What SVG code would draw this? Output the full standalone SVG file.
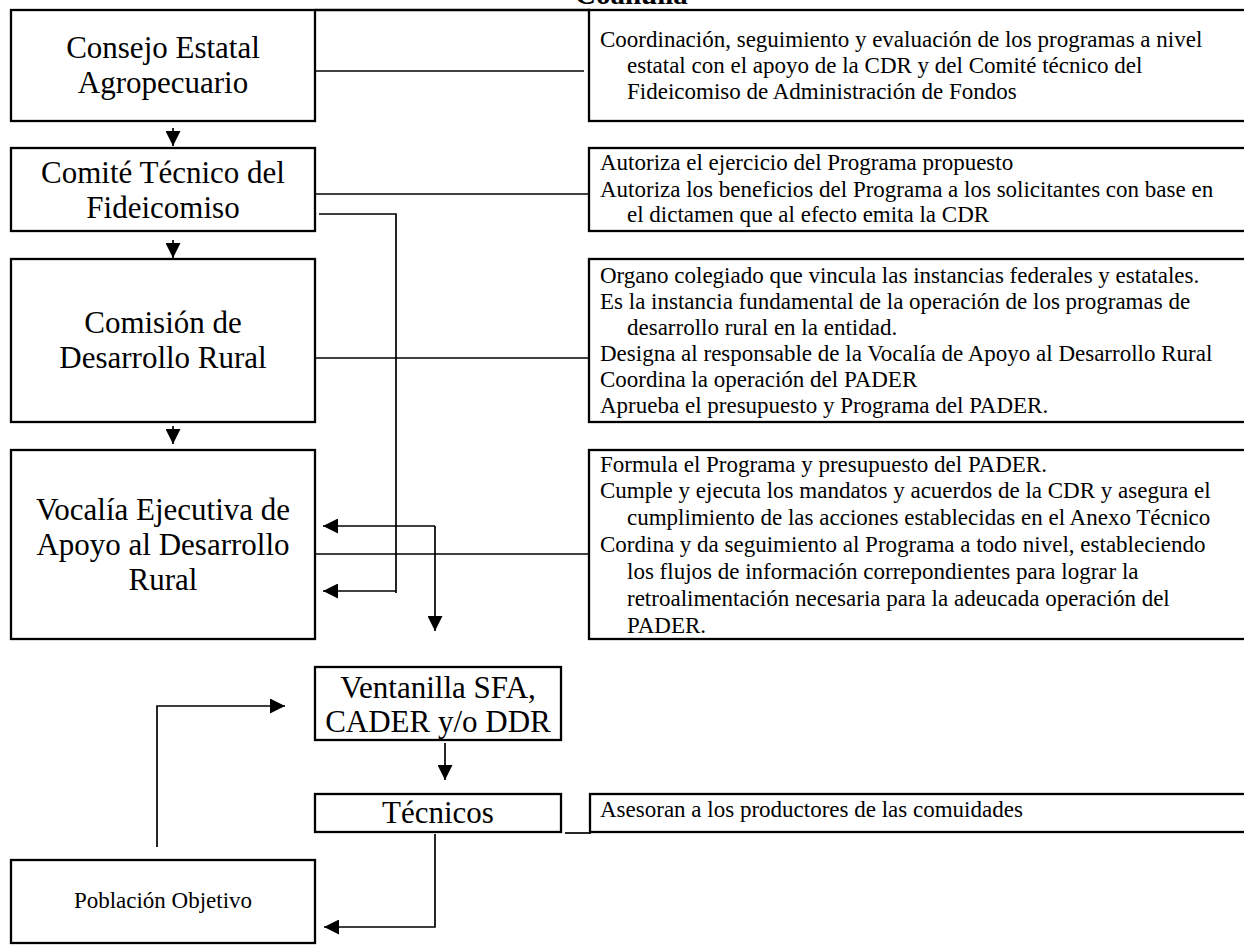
<svg xmlns="http://www.w3.org/2000/svg" width="1244" height="946" viewBox="0 0 1244 946">
<style>
.box{fill:#fff;stroke:#000;stroke-width:2.3}
.big{font-family:"Liberation Serif","Times New Roman",serif;font-size:31px;fill:#000;text-anchor:middle}
.sm{font-family:"Liberation Serif","Times New Roman",serif;font-size:23px;fill:#000}
.smc{font-family:"Liberation Serif","Times New Roman",serif;font-size:23px;fill:#000;text-anchor:middle}
.title{font-family:"Liberation Serif","Times New Roman",serif;font-size:29px;font-weight:bold;fill:#000}
.ln{fill:none;stroke:#000;stroke-width:1.7}
</style>
<defs>
<marker id="ah" markerUnits="userSpaceOnUse" markerWidth="15" markerHeight="15" refX="15" refY="7.5" orient="auto">
<path d="M0,0 L15,7.5 L0,15 z" fill="#000"/>
</marker>
</defs>
<rect width="1244" height="946" fill="#fff"/>
<text class="title" x="575" y="4">Coahuila</text>

<g id="connectors">
<line class="ln" x1="315" y1="10" x2="590" y2="10" style="stroke-width:2.3"/>
<line class="ln" x1="304" y1="71" x2="584" y2="71"/>
<line class="ln" x1="312" y1="194" x2="590" y2="194"/>
<polyline class="ln" points="319,214 396,214 396,593"/>
<line class="ln" x1="396" y1="591" x2="323" y2="591" marker-end="url(#ah)"/>
<line class="ln" x1="310" y1="358" x2="591" y2="358"/>
<line class="ln" x1="310" y1="554" x2="591" y2="554"/>
<line class="ln" x1="435" y1="526" x2="323" y2="526" marker-end="url(#ah)"/>
<line class="ln" x1="435" y1="526" x2="435" y2="631" marker-end="url(#ah)"/>
<line class="ln" x1="173" y1="128" x2="173" y2="146" marker-end="url(#ah)"/>
<line class="ln" x1="173" y1="240" x2="173" y2="258" marker-end="url(#ah)"/>
<line class="ln" x1="173" y1="426" x2="173" y2="444" marker-end="url(#ah)"/>
<line class="ln" x1="445" y1="743" x2="445" y2="780" marker-end="url(#ah)"/>
<polyline class="ln" points="157,847 157,706 285,706" marker-end="url(#ah)"/>
<polyline class="ln" points="435,834 435,927 324,927" marker-end="url(#ah)"/>
<line class="ln" x1="565" y1="833" x2="591" y2="833"/>
</g>

<g id="consejo">
<rect class="box" x="11" y="10" width="304" height="111"/>
<text class="big" x="163" y="58">Consejo Estatal</text>
<text class="big" x="163" y="93">Agropecuario</text>
</g>
<g id="consejo-desc">
<rect class="box" x="589" y="10" width="670" height="111"/>
<text class="sm" x="600" y="47">Coordinación, seguimiento y evaluación de los programas a nivel</text>
<text class="sm" x="627" y="73">estatal con el apoyo de la CDR y del Comité técnico del</text>
<text class="sm" x="627" y="99">Fideicomiso de Administración de Fondos</text>
</g>

<g id="comite">
<rect class="box" x="11" y="148" width="304" height="83"/>
<text class="big" x="163" y="183">Comité Técnico del</text>
<text class="big" x="163" y="218">Fideicomiso</text>
</g>
<g id="comite-desc">
<rect class="box" x="589" y="148" width="670" height="83"/>
<text class="sm" x="600" y="170">Autoriza el ejercicio del Programa propuesto</text>
<text class="sm" x="600" y="197">Autoriza los beneficios del Programa a los solicitantes con base en</text>
<text class="sm" x="627" y="222">el dictamen que al efecto emita la CDR</text>
</g>

<g id="comision">
<rect class="box" x="11" y="259" width="304" height="163"/>
<text class="big" x="163" y="333">Comisión de</text>
<text class="big" x="163" y="368">Desarrollo Rural</text>
</g>
<g id="comision-desc">
<rect class="box" x="589" y="259" width="670" height="163"/>
<text class="sm" x="600" y="283">Organo colegiado que vincula las instancias federales y estatales.</text>
<text class="sm" x="600" y="309">Es la instancia fundamental de la operación de los programas de</text>
<text class="sm" x="627" y="335">desarrollo rural en la entidad.</text>
<text class="sm" x="600" y="361">Designa al responsable de la Vocalía de Apoyo al Desarrollo Rural</text>
<text class="sm" x="600" y="387">Coordina la operación del PADER</text>
<text class="sm" x="600" y="413">Aprueba el presupuesto y Programa del PADER.</text>
</g>

<g id="vocalia">
<rect class="box" x="11" y="450" width="304" height="189"/>
<text class="big" x="163" y="520">Vocalía Ejecutiva de</text>
<text class="big" x="163" y="555">Apoyo al Desarrollo</text>
<text class="big" x="163" y="590">Rural</text>
</g>
<g id="vocalia-desc">
<rect class="box" x="589" y="450" width="670" height="189"/>
<text class="sm" x="600" y="472">Formula el Programa y presupuesto del PADER.</text>
<text class="sm" x="600" y="498">Cumple y ejecuta los mandatos y acuerdos de la CDR y asegura el</text>
<text class="sm" x="627" y="525">cumplimiento de las acciones establecidas en el Anexo Técnico</text>
<text class="sm" x="600" y="552">Cordina y da seguimiento al Programa a todo nivel, estableciendo</text>
<text class="sm" x="627" y="579">los flujos de información correpondientes para lograr la</text>
<text class="sm" x="627" y="606">retroalimentación necesaria para la adeucada operación del</text>
<text class="sm" x="627" y="633">PADER.</text>
</g>

<g id="ventanilla">
<rect class="box" x="315" y="667" width="246" height="73"/>
<text class="big" x="438" y="698">Ventanilla SFA,</text>
<text class="big" x="438" y="732">CADER y/o DDR</text>
</g>

<g id="tecnicos">
<rect class="box" x="315" y="794" width="246" height="38"/>
<text class="big" x="438" y="823">Técnicos</text>
</g>
<g id="tecnicos-desc">
<rect class="box" x="590" y="794" width="670" height="38"/>
<text class="sm" x="600" y="817">Asesoran a los productores de las comuidades</text>
</g>

<g id="poblacion">
<rect class="box" x="11" y="860" width="304" height="83"/>
<text class="smc" x="163" y="908">Población Objetivo</text>
</g>
</svg>
